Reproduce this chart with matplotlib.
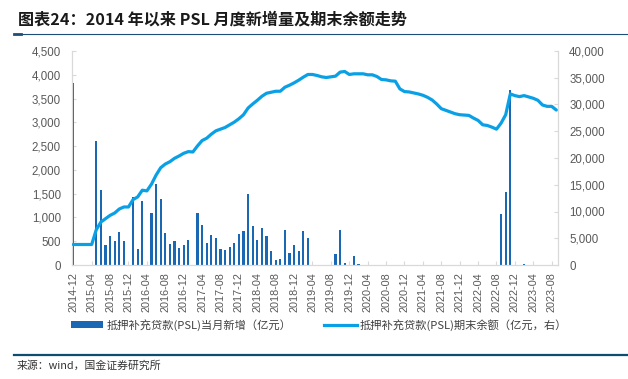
import matplotlib
matplotlib.use("Agg")
import matplotlib.pyplot as plt
import numpy as np
import pandas as pd
from matplotlib.lines import Line2D
from matplotlib.patches import Patch

plt.rcParams['font.family'] = ['Liberation Sans', 'Noto Sans CJK SC', 'DejaVu Sans']

months = [p.strftime('%Y-%m') for p in pd.period_range('2014-12', '2023-09', freq='M')]

new_psl = [3831, 0, 0, 0, 0, 2616, 1571, 421, 603, 512, 694, 512, 0,
           1438, 344, 1340, 0, 1087, 1711, 1388, 673, 449, 512, 351, 421,
           533, 0, 1087, 842, 470, 624, 575, 344, 323, 372, 470, 652,
           722, 1501, 814, 533, 786, 603, 302, 98, 119, 743, 259, 421,
           302, 722, 575, 0, 0, 0, 0, 0, 231, 743, 42, 0,
           182, 28, 0, 0, 0, 0, 0, 0, 0, 0, 0, 0,
           0, 0, 0, 0, 0, 0, 0, 0, 0, 0, 0, 0,
           0, 0, 0, 0, 0, 0, 0, 0, 1066, 1529, 3682, 0,
           0, 28, 0, 0, 0, 0, 0, 0, 0]

balance = [3831, 3831, 3831, 3831, 3831, 6600, 8025, 8652, 9279, 9718, 10470, 10846, 10846,
           12226, 12727, 13981, 13856, 15110, 16803, 18182, 18871, 19310, 19937, 20376, 20878,
           21191, 21128, 22257, 23260, 23699, 24451, 25078, 25392, 25705, 26207, 26708, 27335,
           28088, 29342, 30094, 30784, 31536, 32100, 32288, 32476, 32476, 33229, 33605, 34044,
           34545, 35110, 35611, 35611, 35423, 35172, 35047, 35172, 35298, 36050, 36176, 35611,
           35737, 35737, 35737, 35549, 35549, 35235, 34671, 34608, 34420, 34357, 32915, 32414,
           32351, 32163, 31975, 31724, 31348, 30846, 30094, 29216, 28903, 28589, 28276, 28088,
           28025, 27962, 27461, 27022, 26207, 26082, 25768, 25392, 26520, 28088, 31975, 31661,
           31473, 31661, 31411, 31160, 30784, 29906, 29655, 29655, 28966]

bar_label = '抵押补充贷款(PSL)当月新增（亿元）'
line_label = '抵押补充贷款(PSL)期末余额（亿元，右）'
title = '图表24：2014 年以来 PSL 月度新增量及期末余额走势'
source = '来源：wind，国金证券研究所'

bar_color = '#1A68B3'
line_color = '#0AA0E6'
grid_grey = '#D9D9D9'
txt_grey = '#595959'

fig = plt.figure(figsize=(6.28, 3.79), dpi=100)
ax = fig.add_axes([72/628, 1-265/379, (558-72)/628, (265-51)/379])
ax2 = ax.twinx()

x = np.arange(len(months))
ax.bar(x, new_psl, width=0.5, color=bar_color, zorder=2)
ax2.plot(x, balance, color=line_color, lw=2.3, solid_capstyle='round', zorder=3)

ax.set_xlim(-0.28, len(months) - 0.63)
ax.set_ylim(0, 4500)
ax2.set_ylim(0, 40000)
ax.set_yticks(np.arange(0, 4501, 500))
ax2.set_yticks(np.arange(0, 40001, 5000))
ax.set_yticklabels([f'{v:,}' for v in range(0, 4501, 500)])
ax2.set_yticklabels([f'{v:,}' for v in range(0, 40001, 5000)])
ax.set_xticks(x[::4])
ax.set_xticklabels(months[::4], rotation=90)

for a in (ax, ax2):
    a.set_facecolor('none')
    for s in a.spines.values():
        s.set_color(grid_grey)
        s.set_linewidth(0.8)
    a.spines['top'].set_visible(False)
ax.tick_params(axis='y', direction='in', length=3, color=grid_grey, labelcolor=txt_grey,
               labelsize=8.3, pad=8)
ax2.tick_params(axis='y', direction='in', length=3, color=grid_grey, labelcolor=txt_grey,
                labelsize=8.3, pad=8)
ax.tick_params(axis='x', direction='in', length=3, color=grid_grey, labelcolor=txt_grey,
               labelsize=7.8, pad=5)

handles = [Patch(facecolor=bar_color, edgecolor='none'),
           Line2D([0], [0], color=line_color, lw=2.3)]
leg = fig.legend(handles, [bar_label, line_label], loc='center', ncol=2,
                 bbox_to_anchor=(0.508, 1-325/379), frameon=False,
                 prop={'family': ['Noto Sans CJK SC', 'DejaVu Sans'], 'size': 8.1},
                 handlelength=2.9, handleheight=0.55, handletextpad=0.3, columnspacing=2.9)
for t in leg.get_texts():
    t.set_color('#404040')

fig.text(18/628, 1-19/379, title, fontsize=11.6, fontweight='bold', color='#1a1a1a',
         va='center', ha='left', family=['Noto Sans CJK SC', 'DejaVu Sans'])
fig.add_artist(Line2D([14/628, 1], [1-33.5/379, 1-33.5/379], color='#1F4E79', lw=0.8))
fig.add_artist(Line2D([14/628, 21/628], [1-33.5/379, 1-33.5/379], color='#1F4E79', lw=2))
fig.add_artist(Line2D([14/628, 1], [1-355/379, 1-355/379], color='#0E4D6E', lw=1.6))
fig.text(17/628, 1-366/379, source, fontsize=7.8, color='#333333', va='center', ha='left',
         family=['Noto Sans CJK SC', 'DejaVu Sans'])

fig.savefig('out.png', dpi=100)
